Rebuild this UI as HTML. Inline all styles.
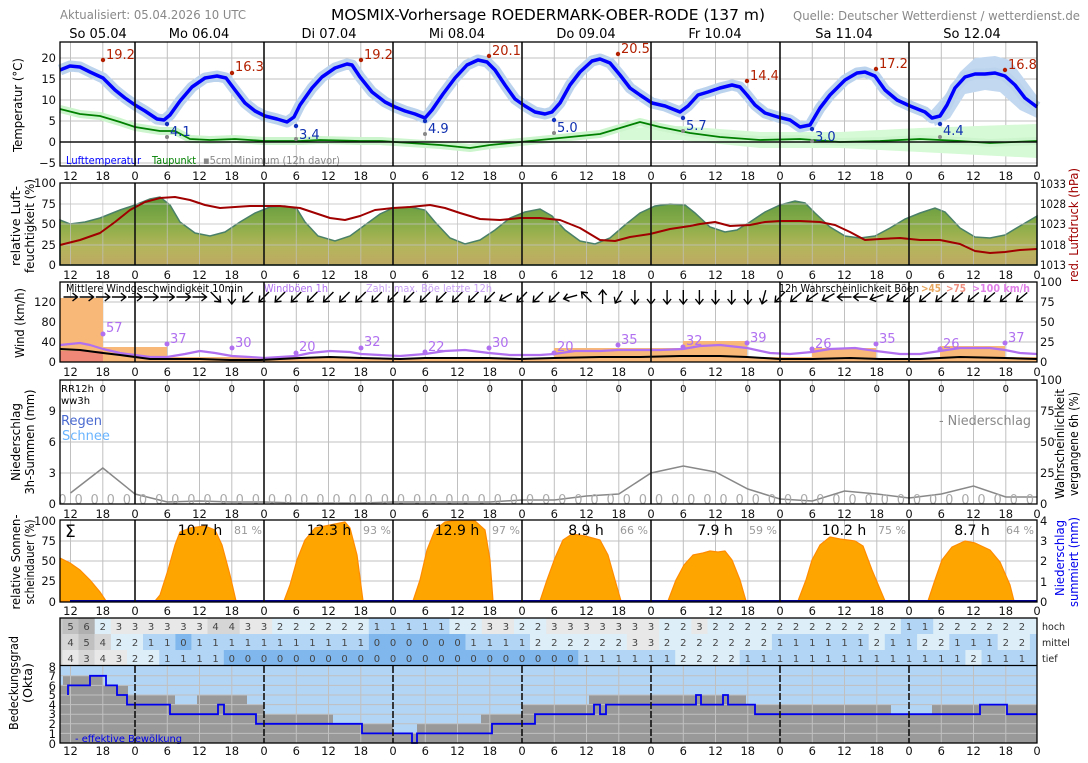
<!DOCTYPE html>
<html><head><meta charset="utf-8"><style>
html,body{margin:0;padding:0;background:#fff}
svg{display:block;font-family:"DejaVu Sans","Liberation Sans",sans-serif}
.t{font-size:11.5px;fill:#111}
.g{stroke:#c0c0c0;stroke-width:1}
.d{stroke:#111;stroke-width:1.6}
</style></head><body>
<svg width="1088" height="763" viewBox="0 0 1088 763" xmlns="http://www.w3.org/2000/svg">
<defs>
<linearGradient id="hg" x1="0" y1="0" x2="0" y2="1">
<stop offset="0" stop-color="#5f9a3e"/><stop offset="0.45" stop-color="#8fae4a"/><stop offset="0.75" stop-color="#b5b55c"/><stop offset="1" stop-color="#bda862"/></linearGradient>
</defs>
<!-- header -->
<text x="60" y="19" font-size="12" fill="#888" textLength="186" lengthAdjust="spacingAndGlyphs">Aktualisiert: 05.04.2026 10 UTC</text>
<text x="331" y="20" font-size="15.5" fill="#000" textLength="434" lengthAdjust="spacingAndGlyphs">MOSMIX-Vorhersage ROEDERMARK-OBER-RODE (137 m)</text>
<text x="793" y="20" font-size="12" fill="#888" textLength="287" lengthAdjust="spacingAndGlyphs">Quelle: Deutscher Wetterdienst / wetterdienst.de</text>
<g font-size="13" text-anchor="middle" fill="#000">
<text x="98" y="38">So 05.04</text><text x="199" y="38">Mo 06.04</text><text x="329" y="38">Di 07.04</text><text x="457" y="38">Mi 08.04</text><text x="586" y="38">Do 09.04</text><text x="715" y="38">Fr 10.04</text><text x="844" y="38">Sa 11.04</text><text x="972" y="38">So 12.04</text>
</g>

<!-- ===== TEMPERATURE PANEL 42-166 ===== -->
<g>
<path class="g" d="M60,58H1037M60,79H1037M60,100H1037M60,121H1037M60,163H1037"/>
<path class="g" d="M70.5,42V166M102.8,42V166M167.3,42V166M199.5,42V166M231.8,42V166M296.3,42V166M328.5,42V166M360.8,42V166M425.3,42V166M457.5,42V166M489.8,42V166M554.3,42V166M586.5,42V166M618.8,42V166M683.3,42V166M715.5,42V166M747.8,42V166M812.3,42V166M844.5,42V166M876.8,42V166M941.3,42V166M973.5,42V166M1005.8,42V166"/>
<path fill="#d6fad6" d="M620,128 L680,126 L760,132 L840,132 L920,128 L1037,124 L1037,158 L920,152 L840,148 L760,148 L680,140 L620,140Z"/>
<polyline fill="none" stroke="#cdf5cd" stroke-width="8" stroke-linejoin="round" points="60,109 80,114 100,116 120,122 135,127 160,131 175,131 190,139 210,140 235,139 264,141 300,141 320,140 360,141 380,141 410,143 440,145 470,148 490,145 520,142 560,138 600,134 640,122 660,127 690,133 720,137 760,140 800,139 840,142 880,141 920,139 960,141 990,143 1037,141"/>
<polyline fill="none" stroke="#008000" stroke-width="1.8" stroke-linejoin="round" points="60,109 80,114 100,116 120,122 135,127 160,131 175,131 190,139 210,140 235,139 264,141 300,141 320,140 360,141 380,141 410,143 440,145 470,148 490,145 520,142 560,138 600,134 640,122 660,127 690,133 720,137 760,140 800,139 840,142 880,141 920,139 960,141 990,143 1037,141"/>
<path fill="#c2d8f0" d="M930,112 L945,95 L960,72 L975,58 L995,56 L1010,60 L1025,80 L1037,96 L1037,118 L1020,110 L1000,92 L985,90 L965,94 L950,118 L935,126Z"/>
<path class="d" d="M60,142H1037" stroke-width="1.3"/>
<polyline fill="none" stroke="#bcd3ee" stroke-width="11" stroke-linejoin="round" points="60,70 70,66 80,67 90,72 103,78 115,90 125,98 135,105 145,111 157,119 164,120 170,115 180,101 192,87 205,78 217,76 226,78 235,90 245,103 255,111 265,116 277,119 287,122 294,117 300,105 312,88 322,77 335,68 347,64 352,65 360,77 372,92 385,102 395,107 405,111 415,114 425,118 432,110 443,94 455,78 467,65 478,60 487,62 495,70 505,85 515,99 525,106 535,112 545,114 552,112 560,103 570,85 580,72 592,61 600,59 610,63 620,75 630,88 640,95 652,103 665,106 675,110 680,112 688,106 698,95 708,92 720,88 732,85 740,87 747,95 755,105 765,113 778,117 790,120 800,127 810,125 820,108 830,95 845,80 857,73 865,72 875,76 885,90 897,100 910,106 925,112 932,118 940,116 947,105 955,88 965,77 975,74 985,74 995,73 1005,76 1015,85 1025,98 1037,107"/>
<polyline fill="none" stroke="#0000ff" stroke-width="3.5" stroke-linejoin="round" points="60,70 70,66 80,67 90,72 103,78 115,90 125,98 135,105 145,111 157,119 164,120 170,115 180,101 192,87 205,78 217,76 226,78 235,90 245,103 255,111 265,116 277,119 287,122 294,117 300,105 312,88 322,77 335,68 347,64 352,65 360,77 372,92 385,102 395,107 405,111 415,114 425,118 432,110 443,94 455,78 467,65 478,60 487,62 495,70 505,85 515,99 525,106 535,112 545,114 552,112 560,103 570,85 580,72 592,61 600,59 610,63 620,75 630,88 640,95 652,103 665,106 675,110 680,112 688,106 698,95 708,92 720,88 732,85 740,87 747,95 755,105 765,113 778,117 790,120 800,127 810,125 820,108 830,95 845,80 857,73 865,72 875,76 885,90 897,100 910,106 925,112 932,118 940,116 947,105 955,88 965,77 975,74 985,74 995,73 1005,76 1015,85 1025,98 1037,107"/>
<g fill="#b22000"><circle cx="103" cy="60" r="2.2"/><circle cx="232" cy="73" r="2.2"/><circle cx="361" cy="60" r="2.2"/><circle cx="489" cy="56" r="2.2"/><circle cx="618" cy="54" r="2.2"/><circle cx="747" cy="81" r="2.2"/><circle cx="876" cy="69" r="2.2"/><circle cx="1005" cy="70" r="2.2"/></g>
<g font-size="13" fill="#b22000"><text x="106" y="59">19.2</text><text x="235" y="71">16.3</text><text x="364" y="59">19.2</text><text x="492" y="55">20.1</text><text x="621" y="53">20.5</text><text x="750" y="80">14.4</text><text x="879" y="68">17.2</text><text x="1008" y="69">16.8</text></g>
<g fill="#1030c0"><circle cx="167" cy="124" r="2.2"/><circle cx="296" cy="126" r="2.2"/><circle cx="425" cy="121" r="2.2"/><circle cx="554" cy="120" r="2.2"/><circle cx="683" cy="118" r="2.2"/><circle cx="812" cy="129" r="2.2"/><circle cx="940" cy="124" r="2.2"/></g>
<g fill="#888"><circle cx="167" cy="137" r="2"/><circle cx="296" cy="139" r="2"/><circle cx="425" cy="134" r="2"/><circle cx="554" cy="133" r="2"/><circle cx="683" cy="131" r="2"/><circle cx="812" cy="141" r="2"/><circle cx="940" cy="137" r="2"/></g>
<g font-size="13" fill="#1030b0"><text x="170" y="136">4.1</text><text x="299" y="139">3.4</text><text x="428" y="133">4.9</text><text x="557" y="132">5.0</text><text x="686" y="130">5.7</text><text x="815" y="141">3.0</text><text x="943" y="135">4.4</text></g>
<text x="66" y="164" font-size="11" fill="#0000ff" textLength="75" lengthAdjust="spacingAndGlyphs">Lufttemperatur</text>
<text x="152" y="164" font-size="11" fill="#008000" textLength="44" lengthAdjust="spacingAndGlyphs">Taupunkt</text>
<text x="203" y="164" font-size="11" fill="#888" textLength="137" lengthAdjust="spacingAndGlyphs">▪5cm Minimum (12h davor)</text>
</g>

<!-- ===== HUMIDITY 183-265 ===== -->
<g>
<path fill="url(#hg)" stroke="#4a8068" stroke-width="1.5" d="M60,265 L60,220 70,224 85,222 100,218 120,210 135,205 150,199 160,197 170,205 180,222 195,233 210,236 225,232 240,222 255,213 270,207 285,206 297,209 305,222 318,236 335,241 350,236 365,225 380,214 393,208 410,207 425,210 435,222 450,238 465,244 480,240 495,230 510,218 525,212 540,209 552,216 565,230 580,241 595,244 610,238 625,225 640,213 655,206 670,204 685,205 695,213 710,227 725,232 737,230 750,222 765,212 780,205 795,201 805,203 815,213 830,227 845,236 860,238 875,236 890,228 905,219 920,213 935,208 945,212 960,228 975,237 990,238 1005,235 1020,226 1037,216 L1037,265Z"/>
<path class="g" d="M60,204H1037M60,224H1037M60,245H1037" stroke-opacity="0.8"/>
<path class="g" stroke-opacity="0.7" d="M70.5,183V265M102.8,183V265M167.3,183V265M199.5,183V265M231.8,183V265M296.3,183V265M328.5,183V265M360.8,183V265M425.3,183V265M457.5,183V265M489.8,183V265M554.3,183V265M586.5,183V265M618.8,183V265M683.3,183V265M715.5,183V265M747.8,183V265M812.3,183V265M844.5,183V265M876.8,183V265M941.3,183V265M973.5,183V265M1005.8,183V265"/>
<polyline fill="none" stroke="#a00000" stroke-width="2" stroke-linejoin="round" points="60,245 80,240 100,233 115,222 130,210 145,202 160,198 175,197 190,200 205,205 220,208 235,207 250,206 264,206 280,206 300,208 315,213 330,218 345,220 360,216 375,210 393,208 410,207 430,205 445,208 460,213 480,219 500,220 520,218 540,218 560,220 580,228 600,240 615,241 630,237 650,234 670,229 690,226 700,224 715,222 730,226 750,225 765,222 780,221 800,221 820,222 835,225 850,232 865,240 880,239 900,238 920,240 940,240 960,244 975,251 990,253 1005,252 1020,250 1037,249"/>
</g>

<!-- ===== WIND 282-362 ===== -->
<g>
<path class="g" d="M60,302H1037M60,322H1037M60,342H1037"/>
<path class="g" d="M70.5,282V362M102.8,282V362M167.3,282V362M199.5,282V362M231.8,282V362M296.3,282V362M328.5,282V362M360.8,282V362M425.3,282V362M457.5,282V362M489.8,282V362M554.3,282V362M586.5,282V362M618.8,282V362M683.3,282V362M715.5,282V362M747.8,282V362M812.3,282V362M844.5,282V362M876.8,282V362M941.3,282V362M973.5,282V362M1005.8,282V362"/>
<path fill="#f8b878" d="M60,362V298H103V347H167V357H361V358H425V359H554V348H683V341H747V357H812V348H876V358H940V346H1005V357H1037V362Z"/>
<rect x="60" y="351" width="43" height="11" fill="#f08878"/>
<polyline fill="none" stroke="#b070f0" stroke-width="2.2" stroke-linejoin="round" points="60,345 70,344 80,343 90,345 103,349 120,353 135,355 150,357 167,357 185,354 200,351 215,353 232,356 250,357 264,358 280,357 296,356 310,353 330,351 350,352 361,354 380,355 400,356 425,354 445,351 465,350 489,353 510,355 540,355 554,354 575,351 600,351 618,350 640,350 660,350 683,349 700,346 720,345 747,348 770,353 790,354 812,352 830,349 855,348 876,351 900,354 920,354 940,351 960,348 990,348 1005,350 1020,353 1037,354"/>
<polyline fill="none" stroke="#000" stroke-width="2" stroke-linejoin="round" points="60,349 80,350 103,353 120,355 135,357 150,359 175,359 200,359 230,360 260,360 300,358 330,357 361,358 400,359 425,358 450,358 489,358 520,359 554,358 600,357 640,357 680,356 720,356 747,357 780,359 812,359 850,358 880,359 920,359 960,357 1005,358 1037,359"/>
<g fill="#b070f0"><circle cx="103" cy="334" r="2.5"/><circle cx="167" cy="344" r="2.5"/><circle cx="232" cy="348" r="2.5"/><circle cx="296" cy="353" r="2.5"/><circle cx="361" cy="348" r="2.5"/><circle cx="425" cy="352" r="2.5"/><circle cx="489" cy="348" r="2.5"/><circle cx="554" cy="353" r="2.5"/><circle cx="618" cy="345" r="2.5"/><circle cx="683" cy="347" r="2.5"/><circle cx="747" cy="343" r="2.5"/><circle cx="812" cy="349" r="2.5"/><circle cx="876" cy="344" r="2.5"/><circle cx="940" cy="349" r="2.5"/><circle cx="1005" cy="343" r="2.5"/></g>
<g font-size="13" fill="#b070f0"><text x="106" y="332">57</text><text x="170" y="343">37</text><text x="235" y="347">30</text><text x="299" y="351">20</text><text x="364" y="346">32</text><text x="428" y="351">22</text><text x="492" y="347">30</text><text x="557" y="351">20</text><text x="621" y="344">35</text><text x="686" y="345">32</text><text x="750" y="342">39</text><text x="815" y="348">26</text><text x="879" y="343">35</text><text x="943" y="348">26</text><text x="1008" y="342">37</text></g>
<g fill="none" stroke="#000" stroke-width="1.4">
<g transform="translate(70.5,297)"><path d="M-7,0H7M2,-4L7,0L2,4"/></g>
<g transform="translate(86.6,297)"><path d="M-7,0H7M2,-4L7,0L2,4"/></g>
<g transform="translate(102.8,297)"><path d="M-7,0H7M2,-4L7,0L2,4"/></g>
<g transform="translate(118.9,297)"><path d="M-7,0H7M2,-4L7,0L2,4"/></g>
<g transform="translate(135,297)"><path d="M-7,0H7M2,-4L7,0L2,4"/></g>
<g transform="translate(151.1,297)"><path d="M-7,0H7M2,-4L7,0L2,4"/></g>
<g transform="translate(167.3,297)"><path d="M-7,0H7M2,-4L7,0L2,4"/></g>
<g transform="translate(183.4,297)"><path d="M-7,0H7M2,-4L7,0L2,4"/></g>
<g transform="translate(199.5,297)"><path d="M-7,0H7M2,-4L7,0L2,4"/></g>
<g transform="translate(215.6,297) rotate(45)"><path d="M-7,0H7M2,-4L7,0L2,4"/></g>
<g transform="translate(231.8,297) rotate(90)"><path d="M-7,0H7M2,-4L7,0L2,4"/></g>
<g transform="translate(247.9,297) rotate(135)"><path d="M-7,0H7M2,-4L7,0L2,4"/></g>
<g transform="translate(264,297) rotate(135)"><path d="M-7,0H7M2,-4L7,0L2,4"/></g>
<g transform="translate(280.1,297) rotate(135)"><path d="M-7,0H7M2,-4L7,0L2,4"/></g>
<g transform="translate(296.3,297) rotate(135)"><path d="M-7,0H7M2,-4L7,0L2,4"/></g>
<g transform="translate(312.4,297) rotate(135)"><path d="M-7,0H7M2,-4L7,0L2,4"/></g>
<g transform="translate(328.5,297) rotate(135)"><path d="M-7,0H7M2,-4L7,0L2,4"/></g>
<g transform="translate(344.6,297) rotate(135)"><path d="M-7,0H7M2,-4L7,0L2,4"/></g>
<g transform="translate(360.8,297) rotate(135)"><path d="M-7,0H7M2,-4L7,0L2,4"/></g>
<g transform="translate(376.9,297) rotate(135)"><path d="M-7,0H7M2,-4L7,0L2,4"/></g>
<g transform="translate(393,297) rotate(135)"><path d="M-7,0H7M2,-4L7,0L2,4"/></g>
<g transform="translate(409.1,297) rotate(135)"><path d="M-7,0H7M2,-4L7,0L2,4"/></g>
<g transform="translate(425.3,297) rotate(135)"><path d="M-7,0H7M2,-4L7,0L2,4"/></g>
<g transform="translate(441.4,297) rotate(135)"><path d="M-7,0H7M2,-4L7,0L2,4"/></g>
<g transform="translate(457.5,297) rotate(135)"><path d="M-7,0H7M2,-4L7,0L2,4"/></g>
<g transform="translate(473.6,297) rotate(135)"><path d="M-7,0H7M2,-4L7,0L2,4"/></g>
<g transform="translate(489.8,297) rotate(135)"><path d="M-7,0H7M2,-4L7,0L2,4"/></g>
<g transform="translate(505.9,297) rotate(150)"><path d="M-7,0H7M2,-4L7,0L2,4"/></g>
<g transform="translate(522,297) rotate(135)"><path d="M-7,0H7M2,-4L7,0L2,4"/></g>
<g transform="translate(538.1,297) rotate(135)"><path d="M-7,0H7M2,-4L7,0L2,4"/></g>
<g transform="translate(554.3,297) rotate(135)"><path d="M-7,0H7M2,-4L7,0L2,4"/></g>
<g transform="translate(570.4,297) rotate(165)"><path d="M-7,0H7M2,-4L7,0L2,4"/></g>
<g transform="translate(586.5,297) rotate(225)"><path d="M-7,0H7M2,-4L7,0L2,4"/></g>
<g transform="translate(602.6,297) rotate(270)"><path d="M-7,0H7M2,-4L7,0L2,4"/></g>
<g transform="translate(618.8,297) rotate(120)"><path d="M-7,0H7M2,-4L7,0L2,4"/></g>
<g transform="translate(634.9,297) rotate(90)"><path d="M-7,0H7M2,-4L7,0L2,4"/></g>
<g transform="translate(651,297) rotate(90)"><path d="M-7,0H7M2,-4L7,0L2,4"/></g>
<g transform="translate(667.1,297) rotate(90)"><path d="M-7,0H7M2,-4L7,0L2,4"/></g>
<g transform="translate(683.3,297) rotate(90)"><path d="M-7,0H7M2,-4L7,0L2,4"/></g>
<g transform="translate(699.4,297) rotate(90)"><path d="M-7,0H7M2,-4L7,0L2,4"/></g>
<g transform="translate(715.5,297) rotate(90)"><path d="M-7,0H7M2,-4L7,0L2,4"/></g>
<g transform="translate(731.6,297) rotate(90)"><path d="M-7,0H7M2,-4L7,0L2,4"/></g>
<g transform="translate(747.8,297) rotate(90)"><path d="M-7,0H7M2,-4L7,0L2,4"/></g>
<g transform="translate(763.9,297) rotate(105)"><path d="M-7,0H7M2,-4L7,0L2,4"/></g>
<g transform="translate(780,297) rotate(135)"><path d="M-7,0H7M2,-4L7,0L2,4"/></g>
<g transform="translate(796.1,297) rotate(140)"><path d="M-7,0H7M2,-4L7,0L2,4"/></g>
<g transform="translate(812.3,297) rotate(145)"><path d="M-7,0H7M2,-4L7,0L2,4"/></g>
<g transform="translate(828.4,297) rotate(150)"><path d="M-7,0H7M2,-4L7,0L2,4"/></g>
<g transform="translate(844.5,297) rotate(180)"><path d="M-7,0H7M2,-4L7,0L2,4"/></g>
<g transform="translate(860.6,297) rotate(180)"><path d="M-7,0H7M2,-4L7,0L2,4"/></g>
<g transform="translate(876.8,297) rotate(160)"><path d="M-7,0H7M2,-4L7,0L2,4"/></g>
<g transform="translate(892.9,297) rotate(145)"><path d="M-7,0H7M2,-4L7,0L2,4"/></g>
<g transform="translate(909,297) rotate(140)"><path d="M-7,0H7M2,-4L7,0L2,4"/></g>
<g transform="translate(925.1,297) rotate(140)"><path d="M-7,0H7M2,-4L7,0L2,4"/></g>
<g transform="translate(941.3,297) rotate(140)"><path d="M-7,0H7M2,-4L7,0L2,4"/></g>
<g transform="translate(957.4,297) rotate(140)"><path d="M-7,0H7M2,-4L7,0L2,4"/></g>
<g transform="translate(973.5,297) rotate(140)"><path d="M-7,0H7M2,-4L7,0L2,4"/></g>
<g transform="translate(989.6,297) rotate(140)"><path d="M-7,0H7M2,-4L7,0L2,4"/></g>
<g transform="translate(1005.8,297) rotate(140)"><path d="M-7,0H7M2,-4L7,0L2,4"/></g>
<g transform="translate(1021.9,297) rotate(140)"><path d="M-7,0H7M2,-4L7,0L2,4"/></g>
</g>
<text x="66" y="292" font-size="11" fill="#000" textLength="177" lengthAdjust="spacingAndGlyphs">Mittlere Windgeschwindigkeit 10min</text>
<text x="264" y="292" font-size="11" fill="#b070f0" textLength="64" lengthAdjust="spacingAndGlyphs">Windböen 1h</text>
<text x="366" y="292" font-size="11" fill="#c8a0f4" textLength="126" lengthAdjust="spacingAndGlyphs">Zahl: max. Böe letzte 12h</text>
<text x="779" y="292" font-size="11" fill="#000" textLength="140" lengthAdjust="spacingAndGlyphs">12h Wahrscheinlichkeit Böen</text>
<text x="921" y="292" font-size="11" font-weight="bold" fill="#e8a860" textLength="20" lengthAdjust="spacingAndGlyphs">&gt;45</text>
<text x="946" y="292" font-size="11" font-weight="bold" fill="#f09080" textLength="20" lengthAdjust="spacingAndGlyphs">&gt;75</text>
<text x="972" y="292" font-size="11" font-weight="bold" fill="#e080e8" textLength="58" lengthAdjust="spacingAndGlyphs">&gt;100 km/h</text>
</g>

<!-- ===== PRECIP 380-504 ===== -->
<g>
<path class="g" d="M60,411H1037M60,442H1037M60,473H1037"/>
<path class="g" d="M70.5,380V504M102.8,380V504M167.3,380V504M199.5,380V504M231.8,380V504M296.3,380V504M328.5,380V504M360.8,380V504M425.3,380V504M457.5,380V504M489.8,380V504M554.3,380V504M586.5,380V504M618.8,380V504M683.3,380V504M715.5,380V504M747.8,380V504M812.3,380V504M844.5,380V504M876.8,380V504M941.3,380V504M973.5,380V504M1005.8,380V504"/>
<polyline fill="none" stroke="#888" stroke-width="1.5" points="70.5,493 102.8,468 135,494 167.3,502 199.5,501 231.8,502 264,502 296.3,503 328.5,503 360.8,503 393,502 425.3,502 457.5,502 489.8,502 522,500 554.3,500 586.5,496 618.8,494 651,473 683.3,466 715.5,472 747.8,489 780,499 812.3,501 844.5,491 876.8,494 909,498 941.3,494 973.5,486 1005.8,497 1037,497"/>
<text x="62.5 78.6 94.7 110.8 126.9 143 159.2 175.3 191.4 207.5 223.7 239.8 255.9 272 288.2 304.3 320.4 336.5 352.7 368.8 384.9 401 417.2 433.3 449.4 465.5 481.7 497.8 513.9 530 546.2 562.3 578.4 594.5 610.7 626.8 642.9 659 675.2 691.3 707.4 723.5 739.7 755.8 771.9 788 804.2 820.3 836.4 852.5 868.7 884.8 900.9 917 933.2 949.3 965.4 981.5 997.7 1013.8 1029.9" y="504" font-size="13" fill="#aaa" text-anchor="middle">0000000000000000000000000000000000000000000000000000000000000</text>
<text x="102.8 167.3 231.8 296.3 360.8 425.3 489.8 554.3 618.8 683.3 747.8 812.3 876.8 941.3 1005.8" y="392" font-size="10" fill="#000" text-anchor="middle">000000000000000</text>
<text x="61" y="392" font-size="10" fill="#000">RR12h</text>
<text x="61" y="404" font-size="10" fill="#000">ww3h</text>
<text x="61" y="425" font-size="13" fill="#4a6ad0">Regen</text>
<text x="62" y="440" font-size="13" fill="#6ab4ff">Schnee</text>
<text x="939" y="425" font-size="13" fill="#888" textLength="92" lengthAdjust="spacingAndGlyphs">- Niederschlag</text>
</g>

<!-- ===== SUNSHINE 520-602 ===== -->
<g>
<path class="g" d="M60,541H1037M60,561H1037M60,581H1037"/>
<path class="g" d="M70.5,520V602M102.8,520V602M167.3,520V602M199.5,520V602M231.8,520V602M296.3,520V602M328.5,520V602M360.8,520V602M425.3,520V602M457.5,520V602M489.8,520V602M554.3,520V602M586.5,520V602M618.8,520V602M683.3,520V602M715.5,520V602M747.8,520V602M812.3,520V602M844.5,520V602M876.8,520V602M941.3,520V602M973.5,520V602M1005.8,520V602"/>
<g fill="#ffa500" stroke="#ff8c00" stroke-width="1.2" stroke-linejoin="round">
<polygon points="60,601 60,558 70,563 80,570 90,580 100,592 106,601"/>
<polygon points="155,601 160,595 168,570 175,545 180,532 190,528 205,526 215,530 222,545 230,575 236,601"/>
<polygon points="284,601 290,585 297,560 305,540 315,528 330,525 345,522 350,528 357,555 363,601"/>
<polygon points="413,601 420,580 427,550 435,530 445,522 460,520 475,521 485,530 490,560 493,601"/>
<polygon points="540,601 547,580 555,558 563,540 572,534 585,536 600,540 608,555 615,580 621,601"/>
<polygon points="668,601 676,580 684,565 693,555 703,553 710,551 718,552 725,551 732,560 740,580 746,601"/>
<polygon points="798,601 806,580 812,560 820,545 830,537 840,539 855,541 863,546 872,570 885,601"/>
<polygon points="928,601 935,580 942,560 952,547 965,541 975,543 990,550 1000,562 1010,585 1014,601"/>
</g>
<path d="M70,601H1037" stroke="#00008b" stroke-width="2"/>
<text x="65" y="537" font-size="17" fill="#000">Σ</text>
<g font-size="14" fill="#000" text-anchor="middle"><text x="200" y="535">10.7 h</text><text x="329" y="535">12.3 h</text><text x="457" y="535">12.9 h</text><text x="586" y="535">8.9 h</text><text x="715" y="535">7.9 h</text><text x="844" y="535">10.2 h</text><text x="972" y="535">8.7 h</text></g>
<g font-size="11" fill="#999" text-anchor="middle"><text x="248" y="534">81 %</text><text x="377" y="534">93 %</text><text x="506" y="534">97 %</text><text x="634" y="534">66 %</text><text x="763" y="534">59 %</text><text x="892" y="534">75 %</text><text x="1020" y="534">64 %</text></g>
</g>

<!-- ===== CLOUD TABLE 618-665 ===== -->
<g>
<rect x="60" y="618" width="977" height="48" fill="#ddeef8"/>
<rect x="60" y="618" width="2.4" height="48" fill="#ccc"/>
<rect x="62.4" y="618" width="16.2" height="16" fill="#c0c0c0"/><rect x="78.5" y="618" width="16.2" height="16" fill="#b0b0b0"/>
<rect x="110.8" y="618" width="96.8" height="16" fill="#e8e8e8"/><rect x="207.5" y="618" width="32.3" height="16" fill="#d6d6d6"/><rect x="239.8" y="618" width="32.3" height="16" fill="#e8e8e8"/>
<rect x="368.8" y="618" width="80.7" height="16" fill="#b3d5f5"/><rect x="481.7" y="618" width="32.3" height="16" fill="#e8e8e8"/><rect x="546.2" y="618" width="112.9" height="16" fill="#e8e8e8"/><rect x="691.3" y="618" width="16.2" height="16" fill="#e8e8e8"/><rect x="900.9" y="618" width="32.3" height="16" fill="#b3d5f5"/>
<rect x="62.4" y="634" width="16.2" height="16" fill="#d6d6d6"/><rect x="78.5" y="634" width="16.2" height="16" fill="#c0c0c0"/><rect x="94.7" y="634" width="16.2" height="16" fill="#d6d6d6"/>
<rect x="143" y="634" width="32.3" height="16" fill="#b3d5f5"/><rect x="175.3" y="634" width="16.2" height="16" fill="#80b8ee"/><rect x="191.4" y="634" width="177.4" height="16" fill="#b3d5f5"/><rect x="368.8" y="634" width="96.8" height="16" fill="#80b8ee"/><rect x="465.5" y="634" width="64.5" height="16" fill="#b3d5f5"/>
<rect x="626.8" y="634" width="32.3" height="16" fill="#e8e8e8"/><rect x="771.9" y="634" width="96.8" height="16" fill="#b3d5f5"/><rect x="884.8" y="634" width="32.3" height="16" fill="#b3d5f5"/><rect x="949.3" y="634" width="48.4" height="16" fill="#b3d5f5"/>
<rect x="1029.9" y="634" width="7.1" height="16" fill="#b3d5f5"/>
<rect x="62.4" y="650" width="16.2" height="16" fill="#e8e8e8"/><rect x="78.5" y="650" width="16.2" height="16" fill="#d6d6d6"/><rect x="94.7" y="650" width="32.3" height="16" fill="#e8e8e8"/>
<rect x="159.2" y="650" width="64.5" height="16" fill="#b3d5f5"/><rect x="223.7" y="650" width="354.7" height="16" fill="#80b8ee"/><rect x="578.4" y="650" width="96.8" height="16" fill="#b3d5f5"/>
<rect x="739.7" y="650" width="225.7" height="16" fill="#b3d5f5"/><rect x="981.5" y="650" width="55.5" height="16" fill="#b3d5f5"/>
<g font-size="10" fill="#444" text-anchor="middle">
<text y="630" x="70.5 86.6 102.8 118.9 135 151.1 167.3 183.4 199.5 215.6 231.8 247.9 264 280.1 296.3 312.4 328.5 344.6 360.8 376.9 393 409.1 425.3 441.4 457.5 473.6 489.8 505.9 522 538.1 554.3 570.4 586.5 602.6 618.8 634.9 651 667.1 683.3 699.4 715.5 731.6 747.8 763.9 780 796.1 812.3 828.4 844.5 860.6 876.8 892.9 909 925.1 941.3 957.4 973.5 989.6 1005.8 1021.9">562333333443322222211111223322333333322322222222222211222222</text>
<text y="646" x="70.5 86.6 102.8 118.9 135 151.1 167.3 183.4 199.5 215.6 231.8 247.9 264 280.1 296.3 312.4 328.5 344.6 360.8 376.9 393 409.1 425.3 441.4 457.5 473.6 489.8 505.9 522 538.1 554.3 570.4 586.5 602.6 618.8 634.9 651 667.1 683.3 699.4 715.5 731.6 747.8 763.9 780 796.1 812.3 828.4 844.5 860.6 876.8 892.9 909 925.1 941.3 957.4 973.5 989.6 1005.8 1021.9">454221101111111111100000011112222223322222221111112112211122</text>
<text y="662" x="70.5 86.6 102.8 118.9 135 151.1 167.3 183.4 199.5 215.6 231.8 247.9 264 280.1 296.3 312.4 328.5 344.6 360.8 376.9 393 409.1 425.3 441.4 457.5 473.6 489.8 505.9 522 538.1 554.3 570.4 586.5 602.6 618.8 634.9 651 667.1 683.3 699.4 715.5 731.6 747.8 763.9 780 796.1 812.3 828.4 844.5 860.6 876.8 892.9 909 925.1 941.3 957.4 973.5 989.6 1005.8 1021.9">434322111100000000000000000000001111112222111111111111112111</text>
</g>
<g font-size="9.5" fill="#222"><text x="1042" y="630">hoch</text><text x="1042" y="646">mittel</text><text x="1042" y="662">tief</text></g>
</g>

<!-- ===== CLOUD 666-743 ===== -->
<g>
<rect x="60" y="666" width="977" height="77" fill="#b3d5f5"/>
<path fill="#999" d="M60,743V685H63V676H103V685H128V695H175V705H197V695H247V705H264V714H333V724H393V733H417V724H481V714H522V705H589V695H746V705H891V714H932V705H1037V743Z"/>
<path class="g" d="M60,675.8H1037M60,685.4H1037M60,695H1037M60,704.6H1037M60,714.2H1037M60,723.8H1037M60,733.4H1037"/>
<path class="g" d="M70.5,666V743M102.8,666V743M167.3,666V743M199.5,666V743M231.8,666V743M296.3,666V743M328.5,666V743M360.8,666V743M425.3,666V743M457.5,666V743M489.8,666V743M554.3,666V743M586.5,666V743M618.8,666V743M683.3,666V743M715.5,666V743M747.8,666V743M812.3,666V743M844.5,666V743M876.8,666V743M941.3,666V743M973.5,666V743M1005.8,666V743"/>
<path fill="none" stroke="#0000ee" stroke-width="1.8" d="M68,695V685.4H90V675.8H106V685.4H117V695H127V704.6H170V714.2H218V704.6H224V714.2H256V723.8H362V733.4H412V743H417V733.4H492V723.8H535V714.2H594V704.6H600V714.2H606V704.6H696V695H701V704.6H723V695H728V704.6H755V714.2H980V704.6H1007V714.2H1037"/>
<text x="75" y="742" font-size="10" fill="#0000ee" textLength="107" lengthAdjust="spacingAndGlyphs">- effektive Bewölkung</text>
</g>

<!-- day separators & frames -->
<g class="d">
<path d="M135,42V166M264,42V166M393,42V166M522,42V166M651,42V166M780,42V166M909,42V166"/>
<path d="M135,183V265M264,183V265M393,183V265M522,183V265M651,183V265M780,183V265M909,183V265"/>
<path d="M135,282V362M264,282V362M393,282V362M522,282V362M651,282V362M780,282V362M909,282V362"/>
<path d="M135,380V504M264,380V504M393,380V504M522,380V504M651,380V504M780,380V504M909,380V504"/>
<path d="M135,520V602M264,520V602M393,520V602M522,520V602M651,520V602M780,520V602M909,520V602"/>
<path d="M135,666V743M264,666V743M393,666V743M522,666V743M651,666V743M780,666V743M909,666V743" stroke-dasharray="7,2"/>
</g>
<g fill="none" stroke="#000" stroke-width="1.3">
<rect x="60" y="42" width="977" height="124"/>
<rect x="60" y="183" width="977" height="82"/>
<rect x="60" y="282" width="977" height="80"/>
<rect x="60" y="380" width="977" height="124"/>
<rect x="60" y="520" width="977" height="82"/>
<rect x="60" y="618" width="977" height="125"/>
<path d="M60,665.5H1037"/>
</g>

<!-- x tick labels -->
<g class="t" text-anchor="middle">
<text y="180"><tspan x="70.5">12</tspan><tspan x="102.8">18</tspan><tspan x="135">0</tspan><tspan x="167.3">6</tspan><tspan x="199.5">12</tspan><tspan x="231.8">18</tspan><tspan x="264">0</tspan><tspan x="296.3">6</tspan><tspan x="328.5">12</tspan><tspan x="360.8">18</tspan><tspan x="393">0</tspan><tspan x="425.3">6</tspan><tspan x="457.5">12</tspan><tspan x="489.8">18</tspan><tspan x="522">0</tspan><tspan x="554.3">6</tspan><tspan x="586.5">12</tspan><tspan x="618.8">18</tspan><tspan x="651">0</tspan><tspan x="683.3">6</tspan><tspan x="715.5">12</tspan><tspan x="747.8">18</tspan><tspan x="780">0</tspan><tspan x="812.3">6</tspan><tspan x="844.5">12</tspan><tspan x="876.8">18</tspan><tspan x="909">0</tspan><tspan x="941.3">6</tspan><tspan x="973.5">12</tspan><tspan x="1005.8">18</tspan><tspan x="1037">0</tspan></text>
<text y="180" transform="translate(0,99)"><tspan x="70.5">12</tspan><tspan x="102.8">18</tspan><tspan x="135">0</tspan><tspan x="167.3">6</tspan><tspan x="199.5">12</tspan><tspan x="231.8">18</tspan><tspan x="264">0</tspan><tspan x="296.3">6</tspan><tspan x="328.5">12</tspan><tspan x="360.8">18</tspan><tspan x="393">0</tspan><tspan x="425.3">6</tspan><tspan x="457.5">12</tspan><tspan x="489.8">18</tspan><tspan x="522">0</tspan><tspan x="554.3">6</tspan><tspan x="586.5">12</tspan><tspan x="618.8">18</tspan><tspan x="651">0</tspan><tspan x="683.3">6</tspan><tspan x="715.5">12</tspan><tspan x="747.8">18</tspan><tspan x="780">0</tspan><tspan x="812.3">6</tspan><tspan x="844.5">12</tspan><tspan x="876.8">18</tspan><tspan x="909">0</tspan><tspan x="941.3">6</tspan><tspan x="973.5">12</tspan><tspan x="1005.8">18</tspan><tspan x="1037">0</tspan></text>
<text y="180" transform="translate(0,196)"><tspan x="70.5">12</tspan><tspan x="102.8">18</tspan><tspan x="135">0</tspan><tspan x="167.3">6</tspan><tspan x="199.5">12</tspan><tspan x="231.8">18</tspan><tspan x="264">0</tspan><tspan x="296.3">6</tspan><tspan x="328.5">12</tspan><tspan x="360.8">18</tspan><tspan x="393">0</tspan><tspan x="425.3">6</tspan><tspan x="457.5">12</tspan><tspan x="489.8">18</tspan><tspan x="522">0</tspan><tspan x="554.3">6</tspan><tspan x="586.5">12</tspan><tspan x="618.8">18</tspan><tspan x="651">0</tspan><tspan x="683.3">6</tspan><tspan x="715.5">12</tspan><tspan x="747.8">18</tspan><tspan x="780">0</tspan><tspan x="812.3">6</tspan><tspan x="844.5">12</tspan><tspan x="876.8">18</tspan><tspan x="909">0</tspan><tspan x="941.3">6</tspan><tspan x="973.5">12</tspan><tspan x="1005.8">18</tspan><tspan x="1037">0</tspan></text>
<text y="180" transform="translate(0,338)"><tspan x="70.5">12</tspan><tspan x="102.8">18</tspan><tspan x="135">0</tspan><tspan x="167.3">6</tspan><tspan x="199.5">12</tspan><tspan x="231.8">18</tspan><tspan x="264">0</tspan><tspan x="296.3">6</tspan><tspan x="328.5">12</tspan><tspan x="360.8">18</tspan><tspan x="393">0</tspan><tspan x="425.3">6</tspan><tspan x="457.5">12</tspan><tspan x="489.8">18</tspan><tspan x="522">0</tspan><tspan x="554.3">6</tspan><tspan x="586.5">12</tspan><tspan x="618.8">18</tspan><tspan x="651">0</tspan><tspan x="683.3">6</tspan><tspan x="715.5">12</tspan><tspan x="747.8">18</tspan><tspan x="780">0</tspan><tspan x="812.3">6</tspan><tspan x="844.5">12</tspan><tspan x="876.8">18</tspan><tspan x="909">0</tspan><tspan x="941.3">6</tspan><tspan x="973.5">12</tspan><tspan x="1005.8">18</tspan><tspan x="1037">0</tspan></text>
<text y="180" transform="translate(0,435)"><tspan x="70.5">12</tspan><tspan x="102.8">18</tspan><tspan x="135">0</tspan><tspan x="167.3">6</tspan><tspan x="199.5">12</tspan><tspan x="231.8">18</tspan><tspan x="264">0</tspan><tspan x="296.3">6</tspan><tspan x="328.5">12</tspan><tspan x="360.8">18</tspan><tspan x="393">0</tspan><tspan x="425.3">6</tspan><tspan x="457.5">12</tspan><tspan x="489.8">18</tspan><tspan x="522">0</tspan><tspan x="554.3">6</tspan><tspan x="586.5">12</tspan><tspan x="618.8">18</tspan><tspan x="651">0</tspan><tspan x="683.3">6</tspan><tspan x="715.5">12</tspan><tspan x="747.8">18</tspan><tspan x="780">0</tspan><tspan x="812.3">6</tspan><tspan x="844.5">12</tspan><tspan x="876.8">18</tspan><tspan x="909">0</tspan><tspan x="941.3">6</tspan><tspan x="973.5">12</tspan><tspan x="1005.8">18</tspan><tspan x="1037">0</tspan></text>
<text y="180" transform="translate(0,575)"><tspan x="70.5">12</tspan><tspan x="102.8">18</tspan><tspan x="135">0</tspan><tspan x="167.3">6</tspan><tspan x="199.5">12</tspan><tspan x="231.8">18</tspan><tspan x="264">0</tspan><tspan x="296.3">6</tspan><tspan x="328.5">12</tspan><tspan x="360.8">18</tspan><tspan x="393">0</tspan><tspan x="425.3">6</tspan><tspan x="457.5">12</tspan><tspan x="489.8">18</tspan><tspan x="522">0</tspan><tspan x="554.3">6</tspan><tspan x="586.5">12</tspan><tspan x="618.8">18</tspan><tspan x="651">0</tspan><tspan x="683.3">6</tspan><tspan x="715.5">12</tspan><tspan x="747.8">18</tspan><tspan x="780">0</tspan><tspan x="812.3">6</tspan><tspan x="844.5">12</tspan><tspan x="876.8">18</tspan><tspan x="909">0</tspan><tspan x="941.3">6</tspan><tspan x="973.5">12</tspan><tspan x="1005.8">18</tspan><tspan x="1037">0</tspan></text>
</g>

<!-- y tick labels left -->
<g class="t" text-anchor="end">
<text x="56" y="62">20</text><text x="56" y="83">15</text><text x="56" y="104">10</text><text x="56" y="125">5</text><text x="56" y="146">0</text><text x="56" y="167">−5</text>
<text x="56" y="187">100</text><text x="56" y="208">75</text><text x="56" y="228">50</text><text x="56" y="249">25</text><text x="56" y="269">0</text>
<text x="56" y="306">120</text><text x="56" y="326">80</text><text x="56" y="346">40</text><text x="56" y="366">0</text>
<text x="56" y="415">9</text><text x="56" y="446">6</text><text x="56" y="477">3</text><text x="56" y="508">0</text>
<text x="56" y="525">100</text><text x="56" y="545">75</text><text x="56" y="565">50</text><text x="56" y="585">25</text><text x="56" y="606">0</text>
<text x="56" y="671">8</text><text x="56" y="680">7</text><text x="56" y="690">6</text><text x="56" y="699">5</text><text x="56" y="709">4</text><text x="56" y="718">3</text><text x="56" y="728">2</text><text x="56" y="738">1</text><text x="56" y="748">0</text>
</g>
<!-- y tick labels right -->
<g class="t">
<text x="1040" y="188" textLength="26" lengthAdjust="spacingAndGlyphs">1033</text><text x="1040" y="208" textLength="26" lengthAdjust="spacingAndGlyphs">1028</text><text x="1040" y="228" textLength="26" lengthAdjust="spacingAndGlyphs">1023</text><text x="1040" y="249" textLength="26" lengthAdjust="spacingAndGlyphs">1018</text><text x="1040" y="269" textLength="26" lengthAdjust="spacingAndGlyphs">1013</text>
<text x="1040" y="286">100</text><text x="1040" y="306">75</text><text x="1040" y="326">50</text><text x="1040" y="346">25</text><text x="1040" y="366">0</text>
<text x="1040" y="384">100</text><text x="1040" y="415">75</text><text x="1040" y="446">50</text><text x="1040" y="477">25</text><text x="1040" y="508">0</text>
<text x="1040" y="525">4</text><text x="1040" y="545">3</text><text x="1040" y="565">2</text><text x="1040" y="586">1</text><text x="1040" y="606">0</text>
</g>

<!-- axis titles -->
<g font-size="12.5" fill="#000" text-anchor="middle" lengthAdjust="spacingAndGlyphs">
<text transform="translate(22,105) rotate(-90)" textLength="94" lengthAdjust="spacingAndGlyphs">Temperatur (°C)</text>
<text transform="translate(20,226) rotate(-90)" textLength="80" lengthAdjust="spacingAndGlyphs">relative Luft-</text>
<text transform="translate(34,226) rotate(-90)" textLength="94" lengthAdjust="spacingAndGlyphs">feuchtigkeit (%)</text>
<text transform="translate(24,323) rotate(-90)" textLength="70" lengthAdjust="spacingAndGlyphs">Wind (km/h)</text>
<text transform="translate(20,442) rotate(-90)" textLength="78" lengthAdjust="spacingAndGlyphs">Niederschlag</text>
<text transform="translate(34,442) rotate(-90)" textLength="105" lengthAdjust="spacingAndGlyphs">3h-Summen (mm)</text>
<text transform="translate(20,562) rotate(-90)" textLength="95" lengthAdjust="spacingAndGlyphs">relative Sonnen-</text>
<text transform="translate(34,562) rotate(-90)" textLength="85" lengthAdjust="spacingAndGlyphs">scheindauer (%)</text>
<text transform="translate(18,683) rotate(-90)" textLength="94" lengthAdjust="spacingAndGlyphs">Bedeckungsgrad</text>
<text transform="translate(32,683) rotate(-90)" textLength="40" lengthAdjust="spacingAndGlyphs">(Okta)</text>
<text transform="translate(1078,225) rotate(-90)" fill="#a00000" textLength="114" lengthAdjust="spacingAndGlyphs">red. Luftdruck (hPa)</text>
<text transform="translate(1064,444) rotate(-90)" textLength="110" lengthAdjust="spacingAndGlyphs">Wahrscheinlichkeit</text>
<text transform="translate(1078,444) rotate(-90)" textLength="104" lengthAdjust="spacingAndGlyphs">vergangene 6h (%)</text>
<text transform="translate(1064,558) rotate(-90)" fill="#0000ee" textLength="76" lengthAdjust="spacingAndGlyphs">Niederschlag</text>
<text transform="translate(1078,562) rotate(-90)" fill="#0000ee" textLength="90" lengthAdjust="spacingAndGlyphs">summiert (mm)</text>
</g>
</svg>
</body></html>
